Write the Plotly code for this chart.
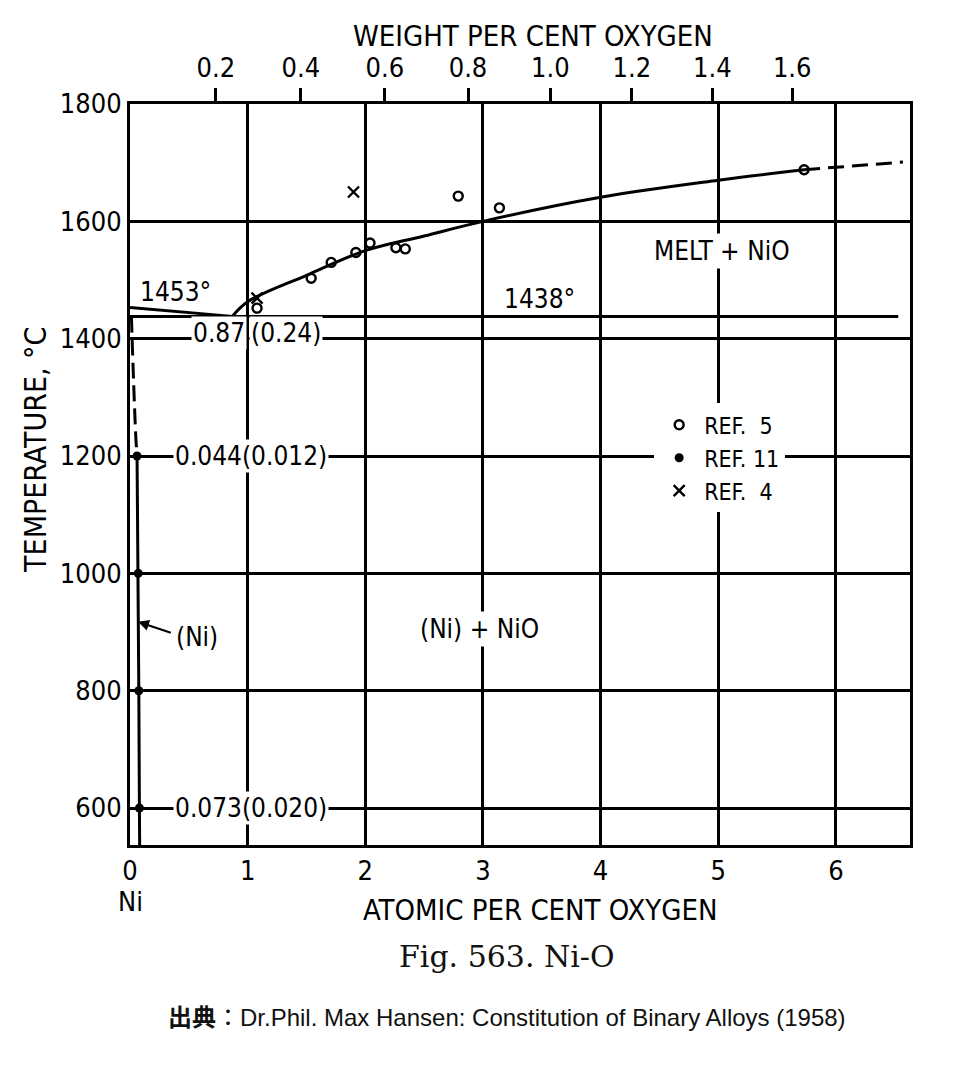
import plotly.graph_objects as go

# ---------------- data ----------------
# liquidus, Ni side: from Ni melting point down to the eutectic
ni_liq_x = [0.0, 0.87]
ni_liq_t = [1453, 1438]

# eutectic horizontal
eut_x = [0.0, 6.53]
eut_t = [1438, 1438]

# liquidus, oxygen side (solid part, then dashed extrapolation)
liq_x = [0.87, 1.0, 1.5, 2.0, 2.5, 3.0, 4.0, 5.0, 5.73]
liq_t = [1438, 1463, 1508, 1550, 1575, 1600, 1641, 1670, 1688]
liq_dash_x = [5.73, 6.57]
liq_dash_t = [1688, 1701]

# solvus of (Ni)
solv_dash_x = [0.012, 0.03, 0.05, 0.06]
solv_dash_t = [1438, 1330, 1230, 1200]
solv_x = [0.06, 0.07, 0.075, 0.08, 0.082]
solv_t = [1200, 1000, 800, 600, 537]

# experimental points
ref5_x = [1.08, 1.54, 1.71, 1.92, 2.04, 2.26, 2.34, 2.79, 3.14, 5.73]
ref5_t = [1452, 1503, 1530, 1547, 1563, 1555, 1553, 1643, 1623, 1688]
ref11_x = [0.06, 0.07, 0.075, 0.08]
ref11_t = [1200, 1000, 800, 600]
ref4_x = [1.08, 1.90]
ref4_t = [1469, 1650]

# axes
x_ticks = [0, 1, 2, 3, 4, 5, 6]
t_ticks = [600, 800, 1000, 1200, 1400, 1600, 1800]
wt_ticks = [0.2, 0.4, 0.6, 0.8, 1.0, 1.2, 1.4, 1.6]
X_MAX = 6.63
T_MIN, T_MAX = 537, 1800

M_NI, M_O = 58.69, 16.0


def wt_to_at(w):
    o = w / M_O
    return 100 * o / (o + (100 - w) / M_NI)


LETTER = "DejaVu Sans Condensed, Liberation Sans Narrow, DejaVu Sans"
INK = "black"
LW = 3

fig = go.Figure()

line = dict(color=INK, width=LW)
fig.add_trace(go.Scatter(x=ni_liq_x, y=ni_liq_t, mode="lines", line=line, showlegend=False))
fig.add_trace(go.Scatter(x=eut_x, y=eut_t, mode="lines", line=line, showlegend=False))
fig.add_trace(go.Scatter(x=liq_x, y=liq_t, mode="lines",
                         line=dict(color=INK, width=LW, shape="spline", smoothing=1.0),
                         showlegend=False))
fig.add_trace(go.Scatter(x=liq_dash_x, y=liq_dash_t, mode="lines",
                         line=dict(color=INK, width=LW, dash="16px,8px"), showlegend=False))
fig.add_trace(go.Scatter(x=solv_dash_x, y=solv_dash_t, mode="lines",
                         line=dict(color=INK, width=LW, dash="16px,7px", shape="spline"),
                         showlegend=False))
fig.add_trace(go.Scatter(x=solv_x, y=solv_t, mode="lines",
                         line=dict(color=INK, width=LW), showlegend=False))

fig.add_trace(go.Scatter(
    x=ref5_x, y=ref5_t, mode="markers", name="REF.\u00a0\u00a05",
    marker=dict(symbol="circle-open", size=9, color=INK, line=dict(width=2.4)),
))
fig.add_trace(go.Scatter(
    x=ref11_x, y=ref11_t, mode="markers", name="REF. 11",
    marker=dict(symbol="circle", size=9, color=INK),
))
fig.add_trace(go.Scatter(
    x=ref4_x, y=ref4_t, mode="markers", name="REF.\u00a0\u00a04",
    marker=dict(symbol="x-thin-open", size=11, color=INK, line=dict(width=2.4, color=INK)),
))
# dummy trace to activate the top axis
fig.add_trace(go.Scatter(x=[None], y=[None], xaxis="x2", showlegend=False))

lab = dict(family=LETTER, size=26, color=INK)


def note(x, y, text, **kw):
    d = dict(x=x, y=y, text=text, showarrow=False, font=lab,
             xanchor="center", yanchor="middle")
    d.update(kw)
    fig.add_annotation(**d)


note(0.07, 1480, "1453°", xanchor="left")
note(3.48, 1467, "1438°")
# the x=1 grid line shows between the two halves of this label
note(0.992, 1410, "0.87", xanchor="right", bgcolor="white", borderpad=1)
note(1.008, 1410, "(0.24)", xanchor="left", bgcolor="white", borderpad=1)
note(1.03, 1200, "0.044(0.012)", bgcolor="white", borderpad=1)
note(1.03, 600, "0.073(0.020)", bgcolor="white", borderpad=1)
note(5.03, 1550, "MELT + NiO", bgcolor="white", borderpad=2)
note(2.97, 906, "(Ni) + NiO", bgcolor="white", borderpad=2)
fig.add_annotation(x=0.06, y=918, ax=0.36, ay=898, axref="x", ayref="y",
                   text="", showarrow=True, arrowhead=2, arrowsize=1.1,
                   arrowwidth=2, arrowcolor=INK, standoff=1)
note(0.37, 892, "(Ni)", xanchor="left")

# outer labels
title_font = dict(family=LETTER, size=29, color=INK)
note(0.0, -0.076, "Ni", yref="paper", font=dict(family=LETTER, size=27, color=INK))
note(0.526, -0.088, "ATOMIC PER CENT OXYGEN", xref="paper", yref="paper", font=title_font)
note(0.517, 1.092, "WEIGHT PER CENT OXYGEN", xref="paper", yref="paper", font=title_font)
note(-0.122, 0.533, "TEMPERATURE, °C", xref="paper", yref="paper", textangle=-90,
     font=dict(family=LETTER, size=30, color=INK))
note(0.483, -0.151, "Fig. 563. Ni-O", xref="paper", yref="paper",
     font=dict(family="DejaVu Serif, Liberation Serif", size=30, color="#111"))
note(0.483, -0.233,
     "<b>出典</b>：Dr.Phil. Max Hansen: Constitution of Binary Alloys (1958)",
     xref="paper", yref="paper",
     font=dict(family="Liberation Sans, Noto Sans CJK JP", size=24, color="#111"))

tick_font = dict(family=LETTER, size=27, color=INK)
axis_common = dict(
    showline=True, linecolor=INK, linewidth=LW, mirror=True,
    showgrid=True, gridcolor=INK, gridwidth=LW, zeroline=False,
    tickfont=tick_font,
)

# the page body adds an 8px margin, so the figure is 8px smaller than the window
fig.update_layout(
    width=946, height=1062,
    margin=dict(l=122, r=44, t=96, b=225),
    paper_bgcolor="white", plot_bgcolor="white",
    xaxis=dict(range=[0, X_MAX], tickvals=x_ticks, ticks="", **axis_common),
    xaxis2=dict(range=[0, X_MAX], overlaying="x", side="top",
                tickvals=[wt_to_at(w) for w in wt_ticks],
                ticktext=[f"{w:.1f}" for w in wt_ticks],
                ticks="outside", ticklen=15, tickwidth=LW, tickcolor=INK,
                showgrid=False, showline=False, zeroline=False,
                tickfont=tick_font),
    yaxis=dict(range=[T_MIN, T_MAX], tickvals=t_ticks, ticks="", **axis_common),
    legend=dict(x=0.672, y=0.596, xanchor="left", yanchor="top",
                bgcolor="white", borderwidth=0,
                font=dict(family=LETTER, size=23, color=INK),
                itemwidth=40, tracegroupgap=0),
    showlegend=True,
)

fig.write_html("out.html")
